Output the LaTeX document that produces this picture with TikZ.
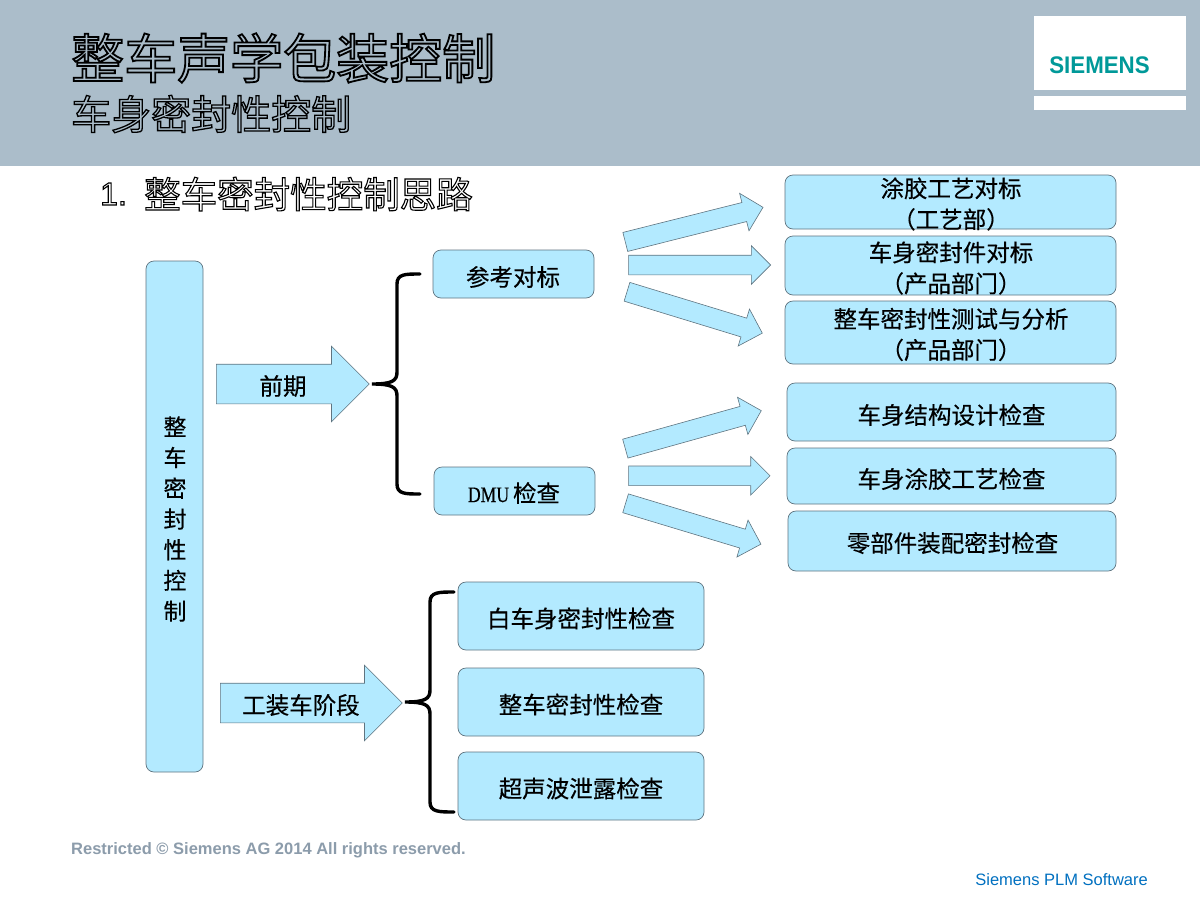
\documentclass[tikz,border=0pt]{standalone}
\usepackage{fontspec}
\usetikzlibrary{shapes.arrows}
\setmainfont{Liberation Sans}
\newfontfamily\cjk{Noto Sans CJK SC}
\newfontfamily\cjkb[FakeBold=0.35]{Noto Sans CJK SC}
\newfontfamily\dmufont[FakeStretch=0.8,FakeBold=0.35]{Liberation Serif}
\newfontfamily\logofont[FakeStretch=0.93]{Liberation Sans}
\newcommand{\outl}[2]{\special{pdf:code 1 Tr #1 w}#2\special{pdf:code 0 Tr}}
\definecolor{hdr}{HTML}{ABBDCA}
\definecolor{cyanfill}{HTML}{B3EAFF}
\definecolor{edgec}{HTML}{5F7480}
\definecolor{teal}{HTML}{009999}
\definecolor{footg}{HTML}{8C9CAB}
\definecolor{plm}{HTML}{0070C0}
\tikzset{
  rbox/.style={draw=edgec,fill=cyanfill,line width=0.7pt,rounded corners=8pt,inner sep=0pt},
  blockarrow/.style={single arrow,draw=edgec,fill=cyanfill,line width=0.6pt,inner sep=0pt,
     single arrow head indent=0pt,single arrow tip angle=90,anchor=tail,
     text height=19pt,text depth=0pt,text width=0pt,single arrow head extend=9.5pt},
  bigarrow/.style={blockarrow,text height=39pt,single arrow head extend=18pt},
  txt/.style={font=\cjkb\fontsize{23.5}{31}\selectfont,inner sep=0pt,align=center,text=black},
  bracestyle/.style={draw=black,line width=3.4pt,line cap=round}
}
\begin{document}
\begin{tikzpicture}[x=1pt,y=-1pt]
\useasboundingbox (0,0) rectangle (1200,900);
\fill[white] (0,0) rectangle (1200,900);
\fill[hdr] (0,0) rectangle (1200,166);
\node[fill=white,minimum width=152pt,minimum height=74pt,inner sep=0pt] (logo) at (1110,53) {};
\node[fill=white,minimum width=152pt,minimum height=14pt,inner sep=0pt] (logob) at (1110,103) {};
\node[inner sep=0pt,text=teal,font=\logofont\bfseries\fontsize{24}{24}\selectfont] (siemens) at (1099.5,65) {SIEMENS};
\node[anchor=west,inner sep=0pt,font=\cjk\fontsize{53}{53}\selectfont] (title) at (71,58) {\outl{1.8}{整车声学包装控制}};
\node[anchor=west,inner sep=0pt,font=\cjk\fontsize{40}{40}\selectfont] (subtitle) at (71,114) {\outl{1.3}{车身密封性控制}};
\node[anchor=west,inner sep=0pt,font=\fontsize{32}{32}\selectfont] (num) at (100,194) {\outl{1.1}{1.}};
\node[anchor=west,inner sep=0pt,font=\cjk\fontsize{36.5}{36.5}\selectfont] (heading) at (144,194) {\outl{1.1}{整车密封性控制思路}};
% left column
\node[rbox,minimum width=57pt,minimum height=511pt] (main) at (174.5,516.5) {};
\node[txt,font=\cjkb\fontsize{23}{30.7}\selectfont] (maintxt) at (175,519) {整\\车\\密\\封\\性\\控\\制};
% large arrows
\node[bigarrow,minimum height=153pt] (qianqi) at (216,384) {};
\node[txt] (qianqitxt) at (283,386) {前期};
\node[bigarrow,minimum height=182pt] (gongzhuang) at (220,703) {};
\node[txt] (gongzhuangtxt) at (301,705) {工装车阶段};
% middle
\node[rbox,minimum width=161pt,minimum height=48pt] (canl) at (513.5,274) {};
\node[txt] at (513,277) {参考对标};
\node[rbox,minimum width=161pt,minimum height=48pt] (dmu) at (514.5,491) {};
\node[txt] at (514,493) {{\dmufont\fontsize{22}{22}\selectfont DMU}\,检查};
% small arrows
\node[blockarrow,minimum height=142pt,rotate=14.1] (a1) at (625,242) {};
\node[blockarrow,minimum height=142pt] (a2) at (628.3,265) {};
\node[blockarrow,minimum height=141.5pt,rotate=-17] (a3) at (626.7,291.7) {};
\node[blockarrow,minimum height=141.2pt,rotate=15.6] (a4) at (625,448.7) {};
\node[blockarrow,minimum height=141.4pt] (a5) at (628.3,475.8) {};
\node[blockarrow,minimum height=141.4pt,rotate=-16.8] (a6) at (625.3,503.2) {};
% right column
\node[rbox,minimum width=331pt,minimum height=54pt] (b1) at (950.5,202) {};
\node[txt] at (951,204) {涂胶工艺对标\\（工艺部）};
\node[rbox,minimum width=331pt,minimum height=59pt] (b2) at (950.5,265.5) {};
\node[txt] at (951,268) {车身密封件对标\\（产品部门）};
\node[rbox,minimum width=331pt,minimum height=63pt] (b3) at (950.5,332.5) {};
\node[txt] at (951,334.5) {整车密封性测试与分析\\（产品部门）};
\node[rbox,minimum width=329pt,minimum height=58pt] (b4) at (951.5,412) {};
\node[txt] at (951.5,415) {车身结构设计检查};
\node[rbox,minimum width=329pt,minimum height=56pt] (b5) at (951.5,476) {};
\node[txt] at (951.5,479) {车身涂胶工艺检查};
\node[rbox,minimum width=328pt,minimum height=60pt] (b6) at (952,541) {};
\node[txt] at (952.5,543) {零部件装配密封检查};
% lower boxes
\node[rbox,minimum width=246pt,minimum height=68pt] (c1) at (581,616) {};
\node[txt] at (581,618.5) {白车身密封性检查};
\node[rbox,minimum width=246pt,minimum height=68pt] (c2) at (581,702) {};
\node[txt] at (581,704.5) {整车密封性检查};
\node[rbox,minimum width=246pt,minimum height=68pt] (c3) at (581,786) {};
\node[txt] at (581,788.5) {超声波泄露检查};
% braces
\coordinate (b1t) at (420,274);
\coordinate (b1m) at (372,384);
\coordinate (b1b) at (420,494);
\draw[bracestyle] (b1t) .. controls (405,274) and (397,274) .. (397,284) -- (397,372)
  .. controls (397,381) and (392,384) .. (b1m)
  .. controls (392,384) and (397,387) .. (397,396) -- (397,484)
  .. controls (397,494) and (405,494) .. (b1b);
\coordinate (b2t) at (454,592);
\coordinate (b2m) at (405,702);
\coordinate (b2b) at (454,812);
\draw[bracestyle] (b2t) .. controls (439,592) and (430,592) .. (430,602) -- (430,690)
  .. controls (430,699) and (425,702) .. (b2m)
  .. controls (425,702) and (430,705) .. (430,714) -- (430,802)
  .. controls (430,812) and (439,812) .. (b2b);
% footer
\node[anchor=west,inner sep=0pt,text=footg,font=\bfseries\fontsize{16.5}{17}\selectfont] (restricted) at (71,850) {Restricted © Siemens AG 2014 All rights reserved.};
\node[anchor=east,inner sep=0pt,text=plm,font=\fontsize{16.5}{17}\selectfont] (plmtxt) at (1148,880) {Siemens PLM Software};
\end{tikzpicture}
\end{document}
